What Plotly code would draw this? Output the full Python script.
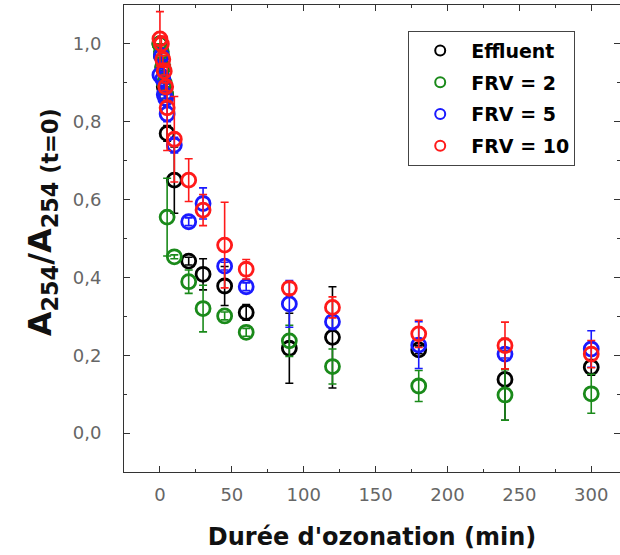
import plotly.graph_objects as go

# Time (min)
times = [0, 1, 2, 3, 4, 5, 10, 20, 30, 45, 60, 90, 120, 180, 240, 300]

effluent = [1.00, 0.97, 0.94, 0.89, 0.87, 0.77, 0.65, 0.442, 0.408, 0.378, 0.310, 0.218, 0.246, 0.214, 0.138, 0.169]
effluent_err = [0.0, 0.01, 0.01, 0.02, 0.02, 0.02, 0.085, 0.01, 0.04, 0.05, 0.02, 0.09, 0.13, 0.01, 0.105, 0.02]

frv2 = [1.00, 0.98, 0.94, 0.90, 0.87, 0.555, 0.453, 0.389, 0.320, 0.301, 0.259, 0.237, 0.171, 0.121, 0.098, 0.101]
frv2_err = [0.0, 0.01, 0.01, 0.01, 0.01, 0.10, 0.005, 0.03, 0.06, 0.01, 0.01, 0.04, 0.045, 0.04, 0.065, 0.05]

frv5 = [0.92, 0.97, 0.91, 0.87, 0.86, 0.82, 0.74, 0.543, 0.590, 0.429, 0.376, 0.332, 0.286, 0.226, 0.203, 0.216]
frv5_err = [0.02, 0.01, 0.01, 0.01, 0.01, 0.02, 0.02, 0.01, 0.04, 0.01, 0.01, 0.06, 0.02, 0.06, 0.01, 0.047]

frv10 = [1.013, 1.00, 0.96, 0.93, 0.89, 0.836, 0.755, 0.650, 0.573, 0.483, 0.421, 0.372, 0.323, 0.255, 0.225, 0.203]
frv10_err = [0.07, 0.02, 0.01, 0.01, 0.01, 0.11, 0.11, 0.055, 0.04, 0.11, 0.025, 0.015, 0.027, 0.035, 0.06, 0.035]

series = [
    ("Effluent", effluent, effluent_err, "#000000"),
    ("FRV = 2", frv2, frv2_err, "#1a8a1a"),
    ("FRV = 5", frv5, frv5_err, "#1a1aff"),
    ("FRV = 10", frv10, frv10_err, "#ff1a1a"),
]

fig = go.Figure()
for name, vals, errs, col in series:
    fig.add_trace(go.Scatter(
        x=times, y=vals, mode="markers", name=name, showlegend=False,
        marker=dict(symbol="circle-open", size=14, color=col, line=dict(width=2.8, color=col)),
        error_y=dict(type="data", array=errs, visible=True, color=col, thickness=1.6, width=4),
    ))
for i, (name, vals, errs, col) in enumerate(series):
    fig.add_trace(go.Scatter(
        x=[None], y=[None], mode="markers", name=name, showlegend=True,
        legendgroup="g%d" % i,
        marker=dict(symbol="circle-open", size=10, color=col, line=dict(width=2, color=col)),
    ))

axis_common = dict(
    showline=True, linecolor="#333333", linewidth=1, mirror="ticks",
    ticks="inside", ticklen=6, tickcolor="#333333", showgrid=False, zeroline=False,
    automargin=False,
    tickfont=dict(family="DejaVu Sans, sans-serif", size=18, color="#666666"),
)

fig.update_xaxes(
    range=[-25, 320], tickvals=[0, 50, 100, 150, 200, 250, 300],
    minor=dict(ticks="inside", ticklen=3, dtick=25, tick0=0, tickcolor="#333333"),
    ticklabelstandoff=6,
    title=dict(text="<b>Durée d'ozonation (min)</b>", standoff=24,
               font=dict(family="DejaVu Sans, sans-serif", size=24, color="#111111")),
    **axis_common,
)
fig.update_yaxes(
    range=[-0.1, 1.1], tickvals=[0, 0.2, 0.4, 0.6, 0.8, 1.0], tickformat=".1f",
    minor=dict(ticks="inside", ticklen=3, dtick=0.1, tick0=0, tickcolor="#333333"),
    ticklabelstandoff=18,
    **axis_common,
)

fig.add_annotation(
    text="<b>A<sub>254</sub>/A<sub>254 (t=0)</sub></b>",
    xref="paper", yref="paper", x=-0.165, y=0.535,
    xanchor="center", yanchor="middle", textangle=-90, showarrow=False,
    font=dict(family="DejaVu Sans, sans-serif", size=32, color="#111111"),
)

fig.update_layout(
    width=620, height=555,
    margin=dict(l=124, r=0, t=5, b=83),
    plot_bgcolor="white", paper_bgcolor="white",
    separators=", ",
    legend=dict(
        x=0.573, y=0.945, xanchor="left", yanchor="top",
        bgcolor="white", bordercolor="#444444", borderwidth=1,
        font=dict(family="DejaVu Sans, sans-serif", size=19, color="#000000", weight="bold"),
        itemsizing="trace", itemwidth=52, tracegroupgap=4,
    ),
)

fig.write_html("out.html", config={"displayModeBar": False},
               post_script="document.body.style.margin='0';document.body.style.padding='0';")
